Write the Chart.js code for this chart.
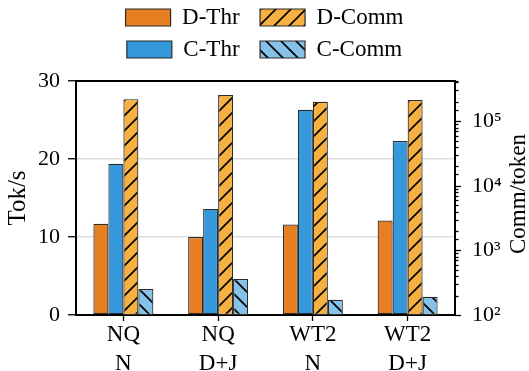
<!DOCTYPE html>
<html>
<head>
<meta charset="utf-8">
<script src="https://cdn.jsdelivr.net/npm/chart.js@4.4.1/dist/chart.umd.min.js"></script>
<style>
  html, body { margin: 0; padding: 0; background: #fff; }
  #wrap { position: relative; width: 529px; height: 371px; }
</style>
</head>
<body>
<div id="wrap"><canvas id="chart"></canvas></div>
<script>
// --- Data ---
const CATEGORIES = [['NQ', 'N'], ['NQ', 'D+J'], ['WT2', 'N'], ['WT2', 'D+J']];
const D_THR = [11.7, 10.0, 11.6, 12.1];
const C_THR = [19.4, 13.6, 26.3, 22.3];
const D_COMM = [220000, 254000, 200000, 213000];
const C_COMM = [252, 360, 172, 192];
const LEFT_TICKS = [0, 10, 20, 30];
const SUPERSCRIPTS = ['\u2070', '\u00b9', '\u00b2', '\u00b3', '\u2074', '\u2075', '\u2076'];

const SERIF = "'Liberation Serif', 'Times New Roman', serif";
const TICK_FONT = { family: SERIF, size: 22 };

// --- Hatch pattern fill ---
function makeHatch(bg, dir) {
  const size = 15;
  const c = document.createElement('canvas');
  c.width = size;
  c.height = size;
  const g = c.getContext('2d');
  g.fillStyle = bg;
  g.fillRect(0, 0, size, size);
  g.strokeStyle = '#000';
  g.lineWidth = 1.7;
  g.beginPath();
  if (dir === '/') {
    g.moveTo(0, size); g.lineTo(size, 0);
    g.moveTo(-2, 2); g.lineTo(2, -2);
    g.moveTo(size - 2, size + 2); g.lineTo(size + 2, size - 2);
  } else {
    g.moveTo(0, 0); g.lineTo(size, size);
    g.moveTo(-2, size - 2); g.lineTo(2, size + 2);
    g.moveTo(size - 2, -2); g.lineTo(size + 2, 2);
  }
  g.stroke();
  return g.createPattern(c, 'repeat');
}

const isPow10 = v => Math.abs(Math.log10(v) - Math.round(Math.log10(v))) < 1e-9;

// --- Frame, right axis ticks and right title ---
const framePlugin = {
  id: 'frame',
  beforeInit(chart) {
    const fit = chart.legend.fit;
    chart.legend.fit = function () {
      // two items per row, fixed band height above the plot
      this.maxWidth = Math.min(this.maxWidth, 310);
      fit.call(chart.legend);
      this.height = 84;
    };
  },
  afterDraw(chart) {
    const { ctx, chartArea } = chart;
    const yR = chart.scales.yR;
    ctx.save();
    ctx.strokeStyle = '#000';
    ctx.lineWidth = 2;
    ctx.beginPath();
    ctx.moveTo(chartArea.left - 1, chartArea.top);
    ctx.lineTo(chartArea.right + 1, chartArea.top);
    ctx.stroke();

    ctx.lineWidth = 1.3;
    yR.ticks.forEach(t => {
      const y = Math.round(yR.getPixelForValue(t.value)) + 0.5;
      const len = isPow10(t.value) ? 6 : 3.5;
      ctx.beginPath();
      ctx.moveTo(chartArea.right, y);
      ctx.lineTo(chartArea.right + len, y);
      ctx.stroke();
    });

    ctx.translate(519, (chartArea.top + chartArea.bottom) / 2 - 4);
    ctx.rotate(-Math.PI / 2);
    ctx.fillStyle = '#000';
    ctx.font = `23px ${SERIF}`;
    ctx.textAlign = 'center';
    ctx.textBaseline = 'middle';
    ctx.fillText('Comm/token', 0, 0);
    ctx.restore();
  },
};

const LEGEND_ORDER = [0, 2, 1, 3];

new Chart(document.getElementById('chart'), {
  type: 'bar',
  data: {
    labels: CATEGORIES,
    datasets: [
      { label: 'D-Thr', data: D_THR, yAxisID: 'y', backgroundColor: '#e67e22' },
      { label: 'C-Thr', data: C_THR, yAxisID: 'y', backgroundColor: '#3498db' },
      { label: 'D-Comm', data: D_COMM, yAxisID: 'yR', backgroundColor: makeHatch('#f5b041', '/') },
      { label: 'C-Comm', data: C_COMM, yAxisID: 'yR', backgroundColor: makeHatch('#85c1e9', '\\') },
    ].map(ds => ({
      ...ds,
      borderColor: '#2b2b2b',
      borderWidth: 1.2,
      borderSkipped: false,
      barPercentage: 1,
      categoryPercentage: 0.633,
    })),
  },
  options: {
    responsive: true,
    maintainAspectRatio: false,
    animation: false,
    layout: { padding: { top: -3, left: 0, right: 0, bottom: 0 } },
    plugins: {
      tooltip: { enabled: false },
      legend: {
        position: 'top',
        labels: {
          color: '#000',
          font: { family: SERIF, size: 23 },
          boxWidth: 45,
          boxHeight: 17,
          padding: 9,
          sort: (a, b) => LEGEND_ORDER.indexOf(a.datasetIndex) - LEGEND_ORDER.indexOf(b.datasetIndex),
          generateLabels: chart => Chart.defaults.plugins.legend.labels.generateLabels(chart).map(it => {
            if (it.text.endsWith('Thr')) it.text += '  ';
            return it;
          }),
        },
      },
    },
    scales: {
      x: {
        grid: { offset: false, drawOnChartArea: false, tickLength: 6, tickColor: '#000', tickWidth: 1.3 },
        border: { color: '#000', width: 2 },
        ticks: { color: '#000', font: { family: SERIF, size: 23, lineHeight: 1.25 }, padding: 0, maxRotation: 0 },
        afterFit: s => { s.height = 56; },
      },
      y: {
        position: 'left',
        min: 0,
        max: 30,
        afterBuildTicks: s => { s.ticks = LEFT_TICKS.map(v => ({ value: v })); },
        grid: {
          color: c => (c.tick && (c.tick.value === 10 || c.tick.value === 20)) ? '#dddddd' : 'rgba(0,0,0,0)',
          lineWidth: 1.5,
          tickColor: '#000',
          tickLength: 8,
          tickWidth: 1.3,
        },
        border: { color: '#000', width: 2 },
        ticks: { color: '#000', font: TICK_FONT, padding: 8 },
        title: { display: true, text: 'Tok/s', color: '#000', font: { family: SERIF, size: 25 }, padding: { top: 3, bottom: 0 } },
        afterFit: s => { s.width = 76; },
      },
      yR: {
        type: 'logarithmic',
        position: 'right',
        min: 100,
        max: 420000,
        grid: { drawOnChartArea: false, tickLength: 6, tickColor: 'rgba(0,0,0,0)' },
        border: { color: '#000', width: 2 },
        ticks: {
          color: '#000',
          font: TICK_FONT,
          padding: 11,
          autoSkip: false,
          callback: v => isPow10(v) ? '10' + SUPERSCRIPTS[Math.round(Math.log10(v))] : '',
        },
        afterFit: s => { s.width = 74; },
      },
    },
  },
  plugins: [framePlugin],
});
</script>
</body>
</html>
